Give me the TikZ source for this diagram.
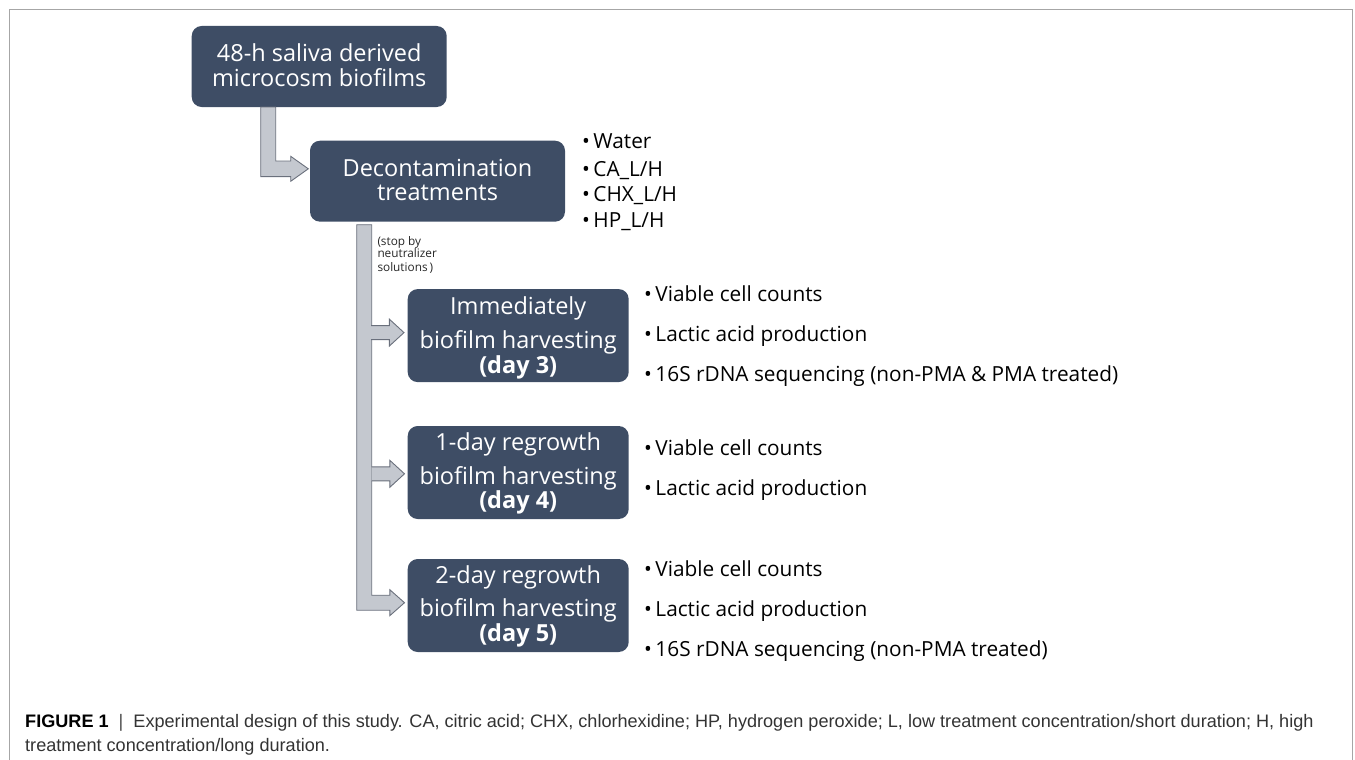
\documentclass[tikz,border=0pt]{standalone}
\usepackage{fontspec}
\newfontfamily\dfont{Open Sans}
\newfontfamily\capfont{Liberation Sans}
\usetikzlibrary{calc}
\definecolor{boxblue}{HTML}{3E4D65}
\definecolor{arrfill}{HTML}{C4C8CF}
\definecolor{arrline}{HTML}{6A707C}
\definecolor{framegray}{HTML}{A6A6A6}
\definecolor{captext}{HTML}{333333}
\tikzset{
  box/.style={rounded corners=10pt, fill=boxblue, draw=none, inner sep=0pt, outer sep=0pt},
  btext/.style={text=white, inner sep=0pt, anchor=base, font=\dfont\fontsize{23.5}{26}\selectfont},
  bbold/.style={btext, font=\dfont\bfseries\fontsize{23.5}{26}\selectfont},
  ltext/.style={text=black, inner sep=0pt, anchor=base west, font=\dfont\fontsize{20.8}{24}\selectfont},
  stext/.style={text=black!85, inner sep=0pt, anchor=base west, font=\dfont\fontsize{11.8}{13}\selectfont},
  ctext/.style={text=captext, inner sep=0pt, anchor=base west, font=\capfont\fontsize{18.1}{21}\selectfont},
  blockarrow/.style={fill=arrfill, draw=arrline, line width=0.9pt, line join=miter}
}
\newcommand\mybranch[1]{\draw[blockarrow] ($(#1)+(-33,-7)$) -- ++(18.3,0) -- ++(0,-6.5) -- (#1) -- ++(-14.7,13.5) -- ++(0,-6.5) -- ++(-18.3,0);}
\begin{document}
\begin{tikzpicture}[x=1pt,y=-1pt]
\useasboundingbox (0,0) rectangle (1355,760);
\draw[framegray, line width=1pt] (9,762) -- (9,10) -- (1352,10) -- (1352,762);

% boxes
\node[box, minimum width=255pt, minimum height=81pt] (b1) at (319.2,66.5) {};
\node[box, minimum width=255pt, minimum height=81pt] (b2) at (437.5,181.2) {};
\node[box, minimum width=221pt, minimum height=93pt] (b3) at (518.2,335.6) {};
\node[box, minimum width=221pt, minimum height=93pt] (b4) at (518.2,472.5) {};
\node[box, minimum width=221pt, minimum height=93pt] (b5) at (518.2,605.5) {};

% box texts
\node[btext] (t1a) at (319.2,61.7) {48-h saliva derived};
\node[btext] (t1b) at (319.2,86.7) {microcosm biofilms};
\node[btext] (t2a) at (437.5,176.7) {Decontamination};
\node[btext] (t2b) at (437.5,200) {treatments};
\node[btext] (t3a) at (518.2,314) {Immediately};
\node[btext] (t3b) at (518.2,348.3) {biofilm harvesting};
\node[bbold] (t3c) at (518.2,373.3) {(day 3)};
\node[btext] (t4a) at (518.2,450.7) {1-day regrowth};
\node[btext] (t4b) at (518.2,484) {biofilm harvesting};
\node[bbold] (t4c) at (518.2,508) {(day 4)};
\node[btext] (t5a) at (518.2,583.3) {2-day regrowth};
\node[btext] (t5b) at (518.2,616.7) {biofilm harvesting};
\node[bbold] (t5c) at (518.2,641.7) {(day 5)};

% treatment list
\node[ltext] (l1) at (582,148.3) {\textbullet\,Water};
\node[ltext] (l2) at (582,176.7) {\textbullet\,CA\_L/H};
\node[ltext] (l3) at (582,201.7) {\textbullet\,CHX\_L/H};
\node[ltext] (l4) at (582,227.3) {\textbullet\,HP\_L/H};

% outcome lists
\node[ltext] (o31) at (644,301.7) {\textbullet\,Viable cell counts};
\node[ltext] (o32) at (644,341.7) {\textbullet\,Lactic acid production};
\node[ltext] (o33) at (644,381.7) {\textbullet\,16S rDNA sequencing (non-PMA \& PMA treated)};
\node[ltext] (o41) at (644,455) {\textbullet\,Viable cell counts};
\node[ltext] (o42) at (644,495) {\textbullet\,Lactic acid production};
\node[ltext] (o51) at (644,576.7) {\textbullet\,Viable cell counts};
\node[ltext] (o52) at (644,616.7) {\textbullet\,Lactic acid production};
\node[ltext] (o53) at (644,656.7) {\textbullet\,16S rDNA sequencing (non-PMA treated)};

% small note
\node[stext] (n1) at (377.3,245) {(stop by};
\node[stext] (n2) at (377.3,257.8) {neutralizer};
\node[stext] (n3) at (377.3,271.5) {solutions\,)};

% arrow 1: b1 -> b2
\coordinate (a1top) at ($(b1.south west)+(69,0)$);
\coordinate (a1tip) at ($(b2.west)+(-1.7,-12.4)$);
\draw[blockarrow] (a1top) -- ++(15,0) |- ($(a1tip)+(-17.6,-7.8)$) -- ++(0,-4.7) -- (a1tip)
  -- ++(-17.6,12.5) -- ++(0,-4.7) -| (a1top) -- cycle;

% arrow 2: b2 -> b3, b4, b5
\coordinate (s2top) at ($(b2.south west)+(46.7,3)$);
\coordinate (tip3) at ($(b3.west)+(-3.7,-3)$);
\coordinate (tip4) at ($(b4.west)+(-3.2,1.3)$);
\coordinate (tip5) at ($(b5.west)+(-3.2,-2.8)$);
\draw[blockarrow] (s2top) -- ++(15,0) |- ($(tip5)+(-14.7,-7.5)$) -- ++(0,-5.5) -- (tip5)
  -- ++(-14.7,13) -- ++(0,-5.5) -| (s2top) -- cycle;
\mybranch{tip3}
\mybranch{tip4}

% caption
\node[ctext] (c1) at (25,727.3) {{\bfseries\color{black}FIGURE 1} \ \textcolor{black!70}{|} \ Experimental design of this study. CA, citric acid; CHX, chlorhexidine; HP, hydrogen peroxide; L, low treatment concentration/short duration; H, high};
\node[ctext] (c2) at (25,751.7) {treatment concentration/long duration.};
\end{tikzpicture}
\end{document}
